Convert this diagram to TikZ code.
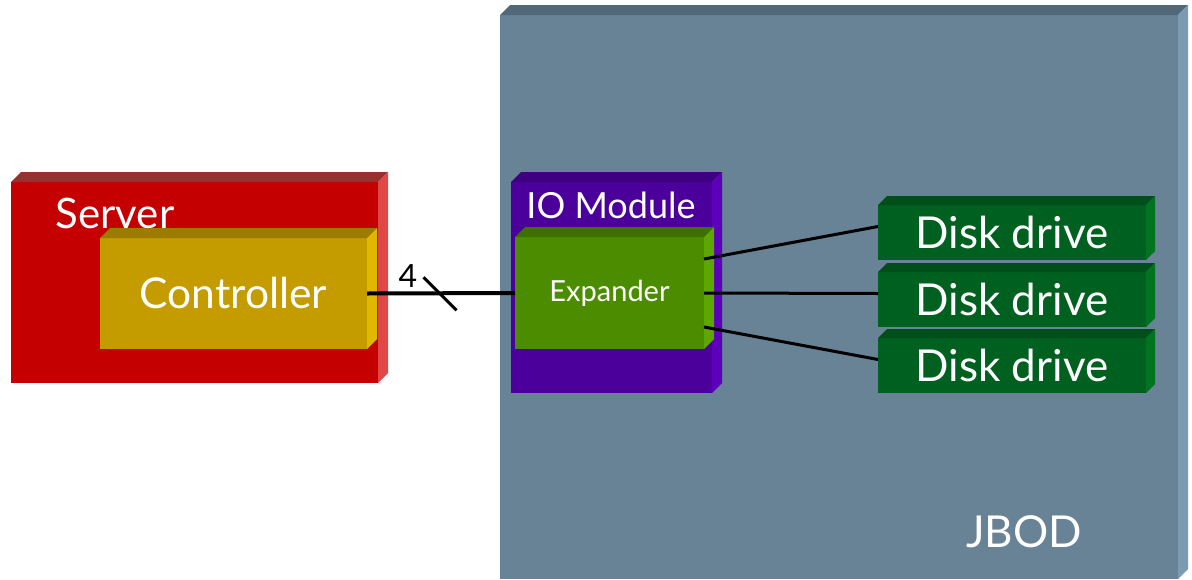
\documentclass[tikz,border=0pt]{standalone}
\usepackage{fontspec}
\setmainfont{Lato}
\usetikzlibrary{positioning}

\definecolor{jbodfront}{HTML}{688296}
\definecolor{jbodtop}{HTML}{506878}
\definecolor{jbodside}{HTML}{7B9BB2}
\definecolor{srvfront}{HTML}{C40000}
\definecolor{srvtop}{HTML}{983030}
\definecolor{srvside}{HTML}{E04848}
\definecolor{ctlfront}{HTML}{C49C00}
\definecolor{ctltop}{HTML}{9C7C00}
\definecolor{ctlside}{HTML}{E0B800}
\definecolor{iofront}{HTML}{4B009B}
\definecolor{iotop}{HTML}{3E0080}
\definecolor{ioside}{HTML}{5C00BC}
\definecolor{expfront}{HTML}{4C8C00}
\definecolor{exptop}{HTML}{3E7000}
\definecolor{expside}{HTML}{5CA800}
\definecolor{dskfront}{HTML}{006020}
\definecolor{dsktop}{HTML}{004E1A}
\definecolor{dskside}{HTML}{00741F}

% top and right faces of a block: node, top colour, side colour, depth
\newcommand{\boxsides}[4]{%
  \fill[#2] (#1.north west) -- ++(#4,-#4) -- ([shift={(#4,-#4)}]#1.north east) -- (#1.north east) -- cycle;
  \fill[#3] (#1.north east) -- ++(#4,-#4) -- ([shift={(#4,-#4)}]#1.south east) -- (#1.south east) -- cycle;}

\begin{document}
\begin{tikzpicture}[
  x=1pt, y=-1pt,
  block/.style={rectangle,inner sep=0pt,outer sep=0pt,text=white},
  caption/.style={text=white,inner sep=0pt},
  wire/.style={line width=3pt},
  bigfont/.style={font=\fontsize{44}{50}\selectfont}
]

\useasboundingbox (0,0) rectangle (1192,579);

% JBOD
\node[block, fill=jbodfront, minimum width=678pt, minimum height=564pt] (jbod) at (839,297) {};
\boxsides{jbod}{jbodtop}{jbodside}{10}
\node[caption, bigfont] (jbodlabel) at (1024,532) {JBOD};

% IO module
\node[block, fill=iofront, minimum width=201pt, minimum height=211pt] (iomod) at (611.5,287.5) {};
\boxsides{iomod}{iotop}{ioside}{10}
\node[caption, font=\fontsize{36}{42}\selectfont] (iolabel) at (611,205) {IO Module};

\node[block, fill=expfront, minimum width=189pt, minimum height=112pt,
      font=\fontsize{29}{34}\selectfont] (expander) at (609.5,293) {Expander};
\boxsides{expander}{exptop}{expside}{10}

% disks
\node[block, fill=dskfront, minimum width=268pt, minimum height=55pt, bigfont] (disk1) at (1012,232.5) {Disk drive};
\boxsides{disk1}{dsktop}{dskside}{9}
\node[block, fill=dskfront, minimum width=268pt, minimum height=55pt, bigfont, below=12pt of disk1] (disk2) {Disk drive};
\boxsides{disk2}{dsktop}{dskside}{9}
\node[block, fill=dskfront, minimum width=268pt, minimum height=55pt, bigfont, below=11pt of disk2] (disk3) {Disk drive};
\boxsides{disk3}{dsktop}{dskside}{9}

% server
\node[block, fill=srvfront, minimum width=367pt, minimum height=201pt] (server) at (194.5,282.5) {};
\boxsides{server}{srvtop}{srvside}{10}
\node[caption, font=\fontsize{42}{48}\selectfont] (srvlabel) at (115,213) {Server};

\node[block, fill=ctlfront, minimum width=267pt, minimum height=111pt,
      font=\fontsize{42.5}{48}\selectfont] (ctrl) at (233.5,293.5) {Controller};
\boxsides{ctrl}{ctltop}{ctlside}{10}

% links
\draw[line width=4pt] (ctrl.east) -- coordinate[pos=0.49] (cut) (expander.west);
\draw[wire] (cut) ++(-16,-16) -- ++(33,33);
\node[font=\fontsize{32}{36}\selectfont, inner sep=0pt] (bits) at (408,276) {4};

\draw[wire] ([yshift=34pt]expander.east) -- ([yshift=6pt]disk1.west);
\draw[wire] (expander.east) -- ([yshift=6pt]disk2.west);
\draw[wire] ([yshift=-34pt]expander.east) -- ([yshift=6pt]disk3.west);

\end{tikzpicture}
\end{document}
